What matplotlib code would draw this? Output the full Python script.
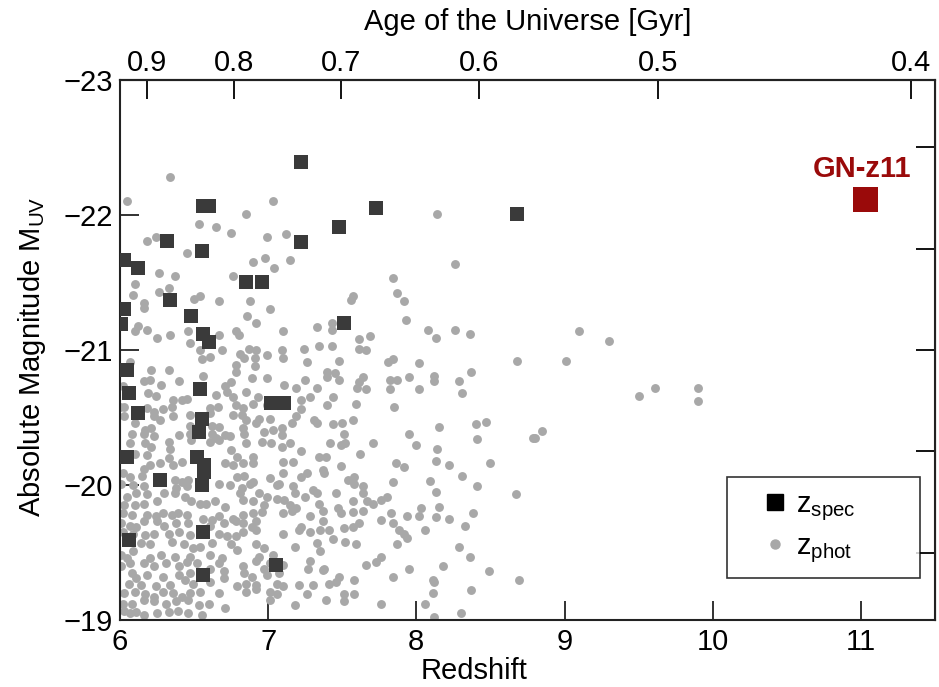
import matplotlib.pyplot as plt
from matplotlib.lines import Line2D

plt.rcParams['font.family'] = ['Liberation Sans', 'DejaVu Sans']
plt.rcParams['mathtext.fontset'] = 'custom'
plt.rcParams['mathtext.rm'] = 'Liberation Sans'
plt.rcParams['mathtext.it'] = 'Liberation Sans'

# spectroscopic redshifts (z, M_UV)
spec = [(7.22, -22.39), (6.56, -22.07), (6.60, -22.07), (7.73, -22.05), (8.68, -22.01),
        (7.48, -21.91), (6.32, -21.81), (7.22, -21.80), (6.55, -21.73), (6.03, -21.67),
        (6.12, -21.61), (6.85, -21.50), (6.96, -21.50), (6.34, -21.37), (6.03, -21.30),
        (6.48, -21.25), (6.01, -21.19), (7.51, -21.20), (6.56, -21.12), (6.60, -21.06),
        (6.05, -20.85), (6.06, -20.68), (6.54, -20.71), (6.12, -20.53), (7.02, -20.61),
        (7.11, -20.61), (6.55, -20.49), (6.53, -20.39), (6.05, -20.21), (6.52, -20.21),
        (6.57, -20.15), (6.57, -20.10), (6.55, -20.00), (6.27, -20.04), (6.06, -19.59),
        (6.56, -19.65), (6.56, -19.33), (7.05, -19.41)]

# photometric redshifts, bright part
phot_bright = [(6.34, -22.28), (6.05, -22.10), (7.03, -22.10), (6.85, -22.01), (6.53, -21.93),
               (6.65, -21.91), (6.75, -21.87), (6.18, -21.81), (6.24, -21.84), (6.99, -21.84),
               (7.12, -21.86), (6.45, -21.72), (6.90, -21.65), (6.98, -21.68), (7.04, -21.61),
               (7.15, -21.67), (6.26, -21.57), (6.37, -21.55), (6.76, -21.55), (6.10, -21.49),
               (6.09, -21.41), (6.26, -21.43), (6.33, -21.46), (6.50, -21.38), (6.54, -21.40),
               (6.67, -21.36), (6.88, -21.36), (6.16, -21.35), (8.14, -22.01), (8.26, -21.64),
               (7.84, -21.53), (7.87, -21.42), (7.57, -21.40), (7.56, -21.37), (7.92, -21.36)]

phot_mid = [(6.16, -21.31), (7.01, -21.30), (6.86, -21.25), (6.92, -21.20), (6.12, -21.18),
            (6.18, -21.15), (6.10, -21.14), (6.34, -21.11), (6.46, -21.14), (6.67, -21.11),
            (6.78, -21.14), (6.80, -21.11), (7.10, -21.14), (7.33, -21.17), (6.25, -21.09),
            (6.47, -21.05), (6.54, -21.00), (6.69, -21.00), (6.81, -20.97), (6.87, -21.01),
            (6.92, -21.00), (6.99, -20.96), (7.09, -21.00), (7.24, -21.01), (7.34, -21.03),
            (6.07, -20.91), (6.21, -20.85), (6.33, -20.85), (6.55, -20.93), (6.61, -20.95),
            (6.78, -20.89), (6.84, -20.94), (6.91, -20.94), (7.10, -20.94), (7.26, -20.91),
            (6.20, -20.78), (6.16, -20.77), (6.28, -20.74), (6.40, -20.77), (6.56, -20.81),
            (6.78, -20.84), (6.89, -20.79), (6.91, -20.88), (6.99, -20.79), (7.11, -20.74),
            (7.19, -20.72), (7.25, -20.78), (7.33, -20.72), (6.71, -20.73), (6.75, -20.76),
            (6.02, -20.73), (6.19, -20.68), (6.24, -20.66), (6.36, -20.63), (6.42, -20.63),
            (6.45, -20.64), (6.65, -20.67), (6.72, -20.69), (6.76, -20.65), (6.85, -20.69),
            (6.93, -20.65), (7.22, -20.63), (7.28, -20.65), (6.99, -20.59), (6.00, -20.58),
            (6.03, -20.58), (6.18, -20.57), (6.23, -20.54), (6.29, -20.56), (6.35, -20.58),
            (6.61, -20.57), (6.66, -20.58), (6.78, -20.59), (6.83, -20.57), (6.90, -20.60),
            (7.22, -20.56), (6.03, -20.51), (6.23, -20.51), (6.27, -20.48), (6.36, -20.51),
            (6.47, -20.52), (6.61, -20.53), (6.76, -20.52), (6.82, -20.52), (6.85, -20.48),
            (6.94, -20.49), (7.01, -20.49), (7.09, -20.42), (7.16, -20.46), (7.19, -20.51),
            (7.31, -20.48), (6.10, -20.46), (6.17, -20.41), (6.21, -20.42), (6.47, -20.44),
            (6.62, -20.44), (6.67, -20.43), (6.83, -20.42), (6.92, -20.46), (7.03, -20.41),
            (7.33, -20.46), (6.08, -20.38), (6.16, -20.38), (6.23, -20.36), (6.40, -20.37),
            (6.47, -20.38), (6.62, -20.38), (6.65, -20.35), (6.71, -20.37), (6.74, -20.36),
            (6.84, -20.38), (6.97, -20.39), (7.09, -20.37), (6.07, -20.31), (6.17, -20.31),
            (6.33, -20.32), (6.48, -20.33), (6.61, -20.32), (6.67, -20.33), (6.85, -20.31),
            (6.96, -20.32), (7.02, -20.31), (7.09, -20.28), (7.15, -20.31), (6.21, -20.28),
            (6.34, -20.27), (7.22, -20.25), (6.00, -20.23), (6.10, -20.23), (6.18, -20.22),
            (6.33, -20.20), (6.75, -20.26), (6.79, -20.21), (6.90, -20.21), (7.34, -20.21),
            (7.93, -21.22), (7.43, -21.20), (7.43, -21.15), (8.08, -21.15), (8.26, -21.15),
            (8.36, -21.12), (8.13, -21.09), (7.61, -21.08), (7.69, -21.10), (7.43, -21.03),
            (7.61, -21.01), (7.66, -21.00), (7.48, -20.92), (8.68, -20.92), (7.81, -20.91),
            (7.84, -20.93), (8.02, -20.90), (7.40, -20.84), (7.45, -20.83), (7.40, -20.80),
            (7.48, -20.78), (7.64, -20.80), (7.61, -20.76), (7.60, -20.72), (7.66, -20.71),
            (7.82, -20.78), (7.87, -20.78), (7.95, -20.80), (8.12, -20.81), (8.12, -20.77),
            (8.29, -20.77), (8.37, -20.84), (8.31, -20.68), (7.82, -20.71), (8.02, -20.71),
            (7.44, -20.65), (7.40, -20.59), (7.59, -20.60), (7.85, -20.58), (7.57, -20.48),
            (7.44, -20.45), (7.50, -20.46), (7.51, -20.38), (7.42, -20.31), (7.49, -20.30),
            (7.52, -20.31), (7.71, -20.31), (7.95, -20.38), (8.00, -20.30), (8.15, -20.43),
            (8.14, -20.27), (8.40, -20.45), (8.47, -20.47), (8.41, -20.34), (8.79, -20.35),
            (7.62, -20.23), (7.39, -20.21), (7.49, -20.14), (7.86, -20.16), (7.92, -20.13),
            (8.13, -20.18), (8.22, -20.15), (8.50, -20.16),
            (9.10, -21.14), (9.30, -21.07), (9.01, -20.92), (9.61, -20.72), (9.50, -20.66),
            (9.90, -20.72), (9.90, -20.62), (8.85, -20.40), (8.80, -20.35)]

phot_faint = [(6.02, -20.09), (6.07, -20.06), (6.15, -20.07), (6.16, -20.12), (6.20, -20.15),
              (6.27, -20.16), (6.36, -20.15), (6.42, -20.17), (6.71, -20.16), (6.76, -20.15),
              (6.83, -20.16), (6.90, -20.16), (7.10, -20.17), (7.17, -20.17), (7.37, -20.11),
              (6.79, -20.06), (6.84, -20.07), (6.90, -20.02), (7.01, -20.05), (7.06, -20.00),
              (7.10, -20.09), (7.22, -20.06), (7.26, -20.09), (6.37, -20.04), (6.42, -20.02),
              (6.46, -20.04), (6.01, -20.01), (6.09, -20.00), (6.16, -19.99), (6.38, -19.98),
              (6.45, -19.99), (6.67, -20.01), (6.74, -20.00), (6.82, -19.98), (6.88, -20.01),
              (7.07, -20.01), (7.17, -19.99), (7.30, -19.96), (6.05, -19.91), (6.11, -19.94),
              (6.18, -19.93), (6.30, -19.94), (6.37, -19.94), (6.44, -19.91), (6.81, -19.94),
              (6.83, -19.89), (6.94, -19.94), (6.99, -19.91), (7.06, -19.90), (7.11, -19.89),
              (7.18, -19.94), (7.25, -19.91), (7.33, -19.94), (6.03, -19.85), (6.10, -19.85),
              (6.16, -19.86), (6.25, -19.88), (6.48, -19.88), (6.54, -19.86), (6.58, -19.86),
              (6.64, -19.88), (6.71, -19.84), (6.90, -19.88), (6.97, -19.85), (7.15, -19.85),
              (7.19, -19.83), (7.34, -19.86), (6.02, -19.79), (6.08, -19.78), (6.18, -19.78),
              (6.24, -19.77), (6.29, -19.79), (6.35, -19.78), (6.39, -19.79), (6.45, -19.78),
              (6.56, -19.75), (6.62, -19.74), (6.67, -19.77), (6.76, -19.75), (6.83, -19.78),
              (6.90, -19.79), (6.96, -19.80), (7.10, -19.79), (7.16, -19.81), (7.28, -19.77),
              (7.37, -19.81), (6.01, -19.72), (6.07, -19.70), (6.11, -19.69), (6.16, -19.73),
              (6.25, -19.73), (6.30, -19.70), (6.38, -19.72), (6.46, -19.72), (6.61, -19.70),
              (6.70, -19.72), (6.78, -19.73), (6.83, -19.72), (6.89, -19.69), (6.92, -19.73),
              (7.22, -19.69), (7.28, -19.65), (7.35, -19.67), (6.02, -19.65), (6.09, -19.64),
              (6.17, -19.63), (6.23, -19.64), (6.33, -19.64), (6.40, -19.65), (6.47, -19.63),
              (6.67, -19.64), (6.72, -19.62), (6.78, -19.62), (6.83, -19.65), (6.92, -19.67),
              (7.10, -19.64), (7.21, -19.67), (6.14, -19.57), (6.20, -19.56), (6.35, -19.58),
              (6.43, -19.56), (6.49, -19.53), (6.54, -19.54), (6.62, -19.57), (6.75, -19.56),
              (6.79, -19.52), (6.92, -19.56), (6.97, -19.53), (7.18, -19.54), (7.33, -19.57),
              (7.35, -19.51), (6.01, -19.48), (6.05, -19.46), (6.09, -19.51), (6.20, -19.46),
              (6.28, -19.48), (6.37, -19.47), (6.47, -19.47), (6.61, -19.48), (6.69, -19.46),
              (6.94, -19.47), (7.03, -19.48), (7.28, -19.44), (6.01, -19.40), (6.07, -19.42),
              (6.16, -19.42), (6.23, -19.40), (6.31, -19.42), (6.40, -19.40), (6.45, -19.43),
              (6.52, -19.42), (6.61, -19.38), (6.67, -19.42), (6.83, -19.40), (6.92, -19.44),
              (6.97, -19.38), (7.01, -19.42), (7.10, -19.41), (7.27, -19.38), (7.37, -19.37),
              (6.08, -19.35), (6.11, -19.31), (6.18, -19.33), (6.29, -19.32), (6.40, -19.33),
              (6.47, -19.35), (6.70, -19.36), (6.84, -19.35), (6.89, -19.32), (6.99, -19.33),
              (7.07, -19.35), (6.06, -19.27), (6.14, -19.26), (6.24, -19.25), (6.34, -19.26),
              (6.44, -19.30), (6.49, -19.27), (6.61, -19.28), (6.70, -19.31), (6.79, -19.25),
              (6.85, -19.27), (6.92, -19.26), (7.06, -19.27), (7.10, -19.25), (7.21, -19.26),
              (7.30, -19.26), (6.03, -19.20), (6.10, -19.21), (6.17, -19.19), (6.23, -19.17),
              (6.29, -19.21), (6.36, -19.20), (6.42, -19.17), (6.47, -19.20), (6.54, -19.21),
              (6.67, -19.20), (6.85, -19.21), (6.92, -19.23), (7.01, -19.21), (7.06, -19.19),
              (7.26, -19.19), (6.02, -19.12), (6.08, -19.12), (6.16, -19.15), (6.23, -19.14),
              (6.31, -19.12), (6.38, -19.14), (6.46, -19.15), (6.53, -19.11), (6.60, -19.12),
              (7.01, -19.15), (7.18, -19.11), (6.03, -19.07), (6.07, -19.05), (6.11, -19.06),
              (6.16, -19.04), (6.25, -19.05), (6.33, -19.06), (6.39, -19.07), (6.46, -19.05),
              (6.55, -19.04), (6.71, -19.09),
              (7.38, -20.09), (7.54, -20.04), (7.58, -20.06), (7.58, -20.01), (7.64, -19.99),
              (7.64, -19.94), (7.46, -19.94), (7.84, -20.02), (8.09, -20.03), (8.13, -19.95),
              (8.31, -20.07), (8.41, -19.99), (8.67, -19.93), (7.67, -19.88), (7.71, -19.86),
              (7.76, -19.89), (7.80, -19.91), (7.57, -19.88), (7.47, -19.83), (7.49, -19.79),
              (7.57, -19.80), (7.64, -19.81), (7.83, -19.79), (7.94, -19.77), (8.02, -19.77),
              (8.03, -19.83), (8.15, -19.84), (8.13, -19.76), (8.22, -19.75), (8.38, -19.79),
              (7.37, -19.73), (7.41, -19.67), (7.51, -19.68), (7.57, -19.69), (7.61, -19.72),
              (7.76, -19.74), (7.84, -19.72), (7.88, -19.67), (7.92, -19.64), (7.94, -19.61),
              (8.06, -19.67), (8.33, -19.70), (7.44, -19.60), (7.52, -19.58), (7.59, -19.56),
              (7.87, -19.56), (8.29, -19.54), (8.36, -19.47), (7.76, -19.47), (7.73, -19.43),
              (7.66, -19.41), (7.38, -19.38), (7.95, -19.38), (8.18, -19.40), (8.49, -19.36),
              (8.69, -19.30), (7.48, -19.32), (7.46, -19.28), (7.41, -19.27), (7.58, -19.30),
              (7.84, -19.32), (8.11, -19.30), (8.12, -19.28), (8.37, -19.22), (8.11, -19.20),
              (7.51, -19.19), (7.58, -19.19), (7.39, -19.15), (7.51, -19.14), (7.76, -19.12),
              (8.06, -19.12), (8.30, -19.05), (8.12, -19.02)]

gnz11 = (11.03, -22.12)

# top axis: age of the Universe [Gyr] and the redshift where it sits
age_labels = ['0.9', '0.8', '0.7', '0.6', '0.5', '0.4']
age_z = [6.18, 6.77, 7.49, 8.42, 9.63, 11.34]

phot = phot_bright + phot_mid + phot_faint
zp = [p[0] for p in phot]
mp = [p[1] for p in phot]
zs = [p[0] for p in spec]
ms = [p[1] for p in spec]

fig = plt.figure(figsize=(9.39, 6.87), dpi=100)
ax = fig.add_axes([0.1278, 0.0975, 0.8679, 0.7861])

ax.plot(zp, mp, 'o', color='#a8a8a8', ms=6.4, mew=0, zorder=2)
ax.plot(zs, ms, 's', color='#3a3a3a', ms=10.5, mew=0, zorder=3)
ax.plot(gnz11[0], gnz11[1], 's', color='#9a0a0a', ms=18, mew=0, zorder=4)
ax.text(11.01, -22.28, 'GN-z11', color='#9a0a0a', fontsize=21,
        fontweight='bold', ha='center', va='baseline')

ax.set_xlim(6, 11.5)
ax.set_ylim(-19, -23)
ax.set_xticks([6, 7, 8, 9, 10, 11])
ax.set_yticks([-23, -22, -21, -20, -19])
ax.tick_params(direction='in', length=14, width=1.3, labelsize=21, pad=5,
               colors='#222222', labelcolor='black')
ax.tick_params(axis='x', pad=6)
for s in ax.spines.values():
    s.set_linewidth(1.5)
    s.set_color('#222222')

ax.set_xlabel('Redshift', fontsize=21)
ax.xaxis.set_label_coords(0.434, -0.095)
ax.xaxis.label.set_va('center')
ax.set_ylabel(r'Absolute Magnitude M$_\mathregular{UV}$', fontsize=21)
ax.yaxis.set_label_coords(-0.108, 0.487)
ax.yaxis.label.set_va('center')

top = ax.secondary_xaxis('top')
top.set_xticks(age_z, age_labels)
top.tick_params(direction='in', length=14, width=1.3, labelsize=21, pad=2)
top.spines['top'].set_linewidth(1.5)
fig.text(527.5 / 939, 1 - 22 / 687, 'Age of the Universe [Gyr]', fontsize=21,
         ha='center', va='center')

right = ax.secondary_yaxis('right')
right.set_yticks([-22.5, -21.75, -21.0, -20.25, -19.5], ['', '', '', '', ''])
right.tick_params(direction='in', length=14, width=1.3)

handles = [Line2D([], [], marker='s', ls='', color='black', ms=11.5),
           Line2D([], [], marker='o', ls='', color='#a8a8a8', ms=6.5)]
leg = ax.legend(handles, [r'z$_\mathregular{spec}$', r'z$_\mathregular{phot}$'],
                loc='lower left', bbox_to_anchor=(0.745, 0.078, 0.237, 0.181),
                mode='expand', fontsize=21, frameon=True, fancybox=False,
                edgecolor='black', borderpad=0.45, labelspacing=0.3,
                handletextpad=-0.45, borderaxespad=0, handlelength=2.35)
leg.get_frame().set_linewidth(1.2)

fig.savefig('out.png', dpi=100)
